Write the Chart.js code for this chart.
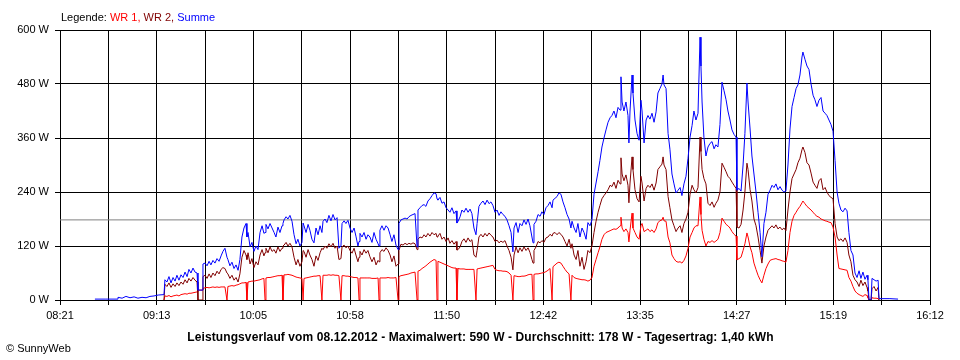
<!DOCTYPE html>
<html><head><meta charset="utf-8">
<script src="https://cdn.jsdelivr.net/npm/chart.js@4/dist/chart.umd.min.js"></script>
<style>
html,body{margin:0;padding:0;background:#fff;}
#wrap{position:relative;width:960px;height:360px;font-family:"Liberation Sans",Arial,sans-serif;color:#000;}
canvas{position:absolute;left:0;top:0;}
.txt{position:absolute;white-space:nowrap;font-size:11px;line-height:11px;}
</style></head><body>
<div id="wrap">
<canvas id="c" width="960" height="360"></canvas>
<div class="txt" style="left:61px;top:12px;">Legende: <span style="color:#ff0000">WR 1,</span> <span style="color:#800000">WR 2,</span> <span style="color:#0000ff">Summe</span></div>
<div class="txt" style="left:0;width:961px;text-align:center;top:331px;font-weight:bold;font-size:12px;line-height:12px;letter-spacing:0.1px;">Leistungsverlauf vom 08.12.2012 - Maximalwert: 590 W - Durchschnitt: 178 W - Tagesertrag: 1,40 kWh</div>
<div class="txt" style="left:6px;top:343px;">© SunnyWeb</div>
</div>
<script>
// time of day in minutes since midnight
const times = [
519.9,525.4,531.9,532.4,534.6,536.7,538.9,541.1,543.2,545.4,547.6,549.7,551.9,554.1,557.3,
557.8,558.9,560.0,561.1,562.2,563.3,564.3,565.4,566.5,567.6,568.7,569.8,570.8,571.9,573.0,574.1,575.2,575.7,577.9,
578.4,579.5,580.6,581.7,582.7,583.8,584.9,586.0,587.1,588.2,589.2,590.3,591.4,591.9,593.0,594.1,595.2,596.3,597.4,598.4,599.5,600.6,601.7,
602.2,602.8,603.9,604.9,606.0,607.1,608.2,609.3,610.4,611.4,612.0,612.5,613.6,614.7,615.8,616.9,617.9,619.0,620.1,621.2,621.7,622.3,623.4,624.4,625.5,626.6,627.7,628.8,629.8,630.9,632.0,
632.6,633.1,634.2,635.3,636.3,637.4,638.5,639.6,640.7,641.8,642.8,643.4,644.5,645.5,646.6,647.7,648.8,649.9,651.0,652.0,653.1,653.7,654.8,655.8,656.9,658.0,659.1,660.2,661.2,662.3,
662.9,663.4,664.5,665.6,666.7,667.7,668.8,669.9,671.0,672.1,673.2,673.7,674.2,675.3,676.4,677.5,678.6,679.7,680.7,681.8,682.9,684.0,
684.5,685.6,686.7,687.8,688.9,689.9,691.0,692.1,693.2,694.3,694.8,695.9,697.0,698.1,699.1,700.2,701.3,702.4,703.5,704.6,705.1,
705.6,706.7,707.8,708.9,710.0,711.1,712.1,713.2,714.3,715.4,715.9,716.5,717.6,718.6,719.7,720.8,721.9,723.0,724.0,725.1,726.2,
726.8,727.8,728.9,730.0,731.1,732.2,733.3,734.3,735.4,736.5,737.6,738.7,739.7,740.8,741.9,743.0,744.1,745.2,746.2,
746.8,747.9,749.0,750.0,751.1,752.2,753.3,754.4,755.4,756.5,757.1,757.6,758.7,759.8,760.9,761.9,763.0,764.1,765.2,766.3,767.4,
767.9,769.0,770.1,771.1,772.2,773.3,774.4,775.5,776.6,777.6,778.2,779.3,780.4,781.4,782.5,783.6,784.7,785.8,786.8,787.9,789.0,
790.1,791.2,792.3,793.3,794.4,795.5,796.6,797.7,798.8,799.8,800.9,802.0,803.1,804.2,804.7,805.3,806.3,807.4,808.5,809.0,809.6,810.7,
811.2,812.3,813.4,814.5,815.5,816.1,817.2,818.3,819.3,820.4,821.5,822.6,823.7,824.7,825.8,826.9,827.5,828.0,829.1,830.2,
831.2,832.3,833.4,834.5,835.6,836.7,837.7,838.8,839.9,841.0,842.1,843.2,844.2,845.3,846.4,847.5,848.0,848.6,849.6,
850.7,851.8,852.9,854.0,855.1,856.1,857.2,858.3,859.4,860.5,861.6,862.6,863.7,864.8,865.9,867.0,
867.5,868.6,869.7,870.8,871.8,872.9,873.5,874.6,875.6,876.7,877.8,878.9,880.0,881.0,882.1,883.2,884.3,
885.4,886.5,887.5,888.6,889.7,890.8,891.9,892.9,894.0,895.1,896.2,897.3,898.4,899.5,900.5,901.6,902.7,903.2,
904.3,905.4,906.5,907.6,908.7,909.7,910.8,911.9,913.0,914.1,915.2,916.2,917.3,918.4,919.5,920.6,921.7,
922.7,923.8,924.9,926.0,927.1,928.1,929.2,930.3,931.4,932.5,933.6,934.6,935.7,936.8,937.9,938.4,
939.0,940.1,940.6,941.7,942.8,943.9,944.4,946.0,950.3,954.7
];
// WR 1 power (W)
const wr1 = [
null,null,null,null,null,null,null,null,null,null,null,null,null,null,0,
9,8,10,7,9,10,11,9,12,13,14,13,15,15,16,17,18,22,22,
26,27,28,27,28,29,28,29,28,29,29,29,0,30,31,32,31,33,34,36,38,38,39,
0,40,41,42,42,43,44,45,47,48,0,49,50,50,51,52,53,54,54,55,0,56,56,57,56,55,53,51,50,49,48,
0,48,49,50,51,52,53,53,54,54,0,55,55,55,56,55,56,55,55,54,0,54,54,53,53,52,51,50,50,49,
0,49,49,49,49,49,49,48,48,48,49,0,49,49,49,49,50,49,49,49,50,0,
52,54,55,56,57,58,60,61,62,0,64,66,70,73,76,80,84,87,90,88,0,
86,84,82,80,78,76,74,72,71,71,0,70,69,69,69,68,68,68,68,68,0,
69,70,71,72,73,74,75,76,77,68,66,65,65,64,64,63,60,55,0,
54,53,52,52,53,53,54,56,57,57,0,57,58,58,59,60,61,63,66,70,0,
74,78,82,84,82,75,68,62,58,0,55,50,48,47,46,45,45,44,42,44,50,
75,90,105,118,135,145,150,152,154,156,158,157,160,165,184,160,152,158,150,129,155,193,
160,150,140,135,165,170,152,155,158,152,156,150,158,172,176,178,184,176,175,140,
127,100,92,86,84,85,82,88,98,115,140,150,160,165,165,229,190,155,135,
120,130,128,132,128,131,135,150,182,175,168,165,160,152,146,142,
89,92,95,110,125,149,140,118,105,82,68,55,45,38,55,70,80,
88,90,91,92,90,89,87,86,84,110,150,175,188,195,202,208,216,220,
214,208,204,200,195,190,186,184,180,178,176,175,173,172,162,140,100,
70,69,68,67,66,50,42,30,20,15,12,10,8,12,10,5,
0,0,5,4,4,3,0,null,null,null
];
// WR 2 power (W)
const wr2 = [
null,null,null,null,null,null,null,null,null,null,null,null,null,null,0,
35,30,38,28,36,30,38,32,40,35,45,38,48,42,50,44,40,0,0,
52,55,48,58,50,60,54,64,58,68,72,70,60,58,48,55,44,50,40,58,95,110,100,
90,105,80,92,72,85,78,100,112,98,105,115,105,118,108,112,104,118,108,115,120,122,128,120,126,118,95,78,90,75,85,
110,108,95,112,100,90,75,98,88,105,115,112,120,115,125,118,126,115,120,90,92,118,122,116,120,110,104,115,100,85,
95,108,100,112,104,110,96,85,95,78,88,85,105,112,108,116,110,100,85,98,75,80,
110,124,122,126,123,126,124,127,125,112,135,140,138,145,140,148,142,150,145,148,140,
142,148,135,140,130,138,126,132,124,130,111,112,118,130,136,128,138,130,134,100,95,
110,140,146,140,148,142,149,144,140,130,133,127,131,128,132,120,110,95,67,
100,118,105,116,108,118,110,116,106,90,82,110,118,130,127,132,128,138,140,146,142,
148,150,145,150,146,140,130,120,135,115,125,100,90,110,75,95,68,85,110,105,120,
150,175,195,210,225,232,238,245,255,252,262,248,266,258,316,280,265,278,255,216,260,318,
290,245,225,218,275,260,220,248,255,250,258,244,260,290,296,302,318,300,290,230,
205,178,165,152,160,165,150,170,180,195,235,255,245,238,250,362,330,290,270,
258,215,210,218,206,215,222,240,304,295,285,275,270,262,255,248,
162,160,168,200,240,304,290,245,220,180,165,140,110,82,120,140,155,
160,165,160,167,158,162,156,160,154,200,240,270,280,290,305,315,334,340,
328,305,300,282,262,255,248,265,270,245,250,240,232,228,225,170,140,
132,136,130,138,128,100,85,55,45,40,30,44,32,40,28,20,
0,0,25,30,20,28,0,null,null,null
];
// Summe power (W)
const summe = [
2,2,2,6,4,8,5,7,4,6,5,8,9,11,12,
45,40,52,38,50,42,55,44,56,50,62,52,68,60,71,62,60,22,22,
80,82,76,86,78,88,82,92,86,98,108,115,95,90,76,84,70,78,66,90,140,160,170,
140,150,118,128,108,120,112,150,165,148,150,168,158,170,160,150,140,162,150,165,170,178,185,180,188,175,145,125,135,120,128,
171,165,150,168,155,135,127,160,145,165,150,175,180,172,188,176,190,178,183,115,120,170,176,170,177,160,150,160,142,120,
130,148,140,150,135,145,140,128,150,135,125,120,155,165,155,165,160,145,130,145,122,112,
170,178,180,182,180,185,188,190,192,118,200,205,210,212,208,220,225,232,238,236,225,
222,228,215,218,205,200,195,205,192,198,171,175,185,200,195,204,195,202,192,160,145,
170,208,215,220,212,222,214,218,210,195,200,188,196,190,186,178,165,150,107,
160,172,150,170,165,178,168,180,165,140,127,168,175,190,186,196,190,205,210,218,205,
222,226,230,238,235,218,205,190,180,160,175,160,150,170,140,160,150,135,172,165,178,
235,260,285,310,340,360,378,395,405,410,420,405,428,422,496,440,420,440,410,349,420,500,
460,400,370,355,444,420,349,400,410,402,415,395,418,460,470,480,500,478,470,370,
335,280,258,238,244,250,232,258,275,315,362,388,420,400,415,584,520,440,362,
320,340,348,352,336,345,340,390,484,465,445,420,400,378,368,362,
244,248,242,300,370,482,440,380,320,280,240,195,150,96,170,195,235,
244,255,250,258,245,252,244,240,242,300,380,430,450,470,478,500,540,551,
535,520,512,480,455,445,430,444,450,420,415,410,400,390,375,310,240,
215,200,196,204,198,150,110,100,60,50,65,48,62,46,55,45,
0,0,48,45,42,44,3,3,3,2
];
const average = 178;
const axisStart = '08:21';
const axisEnd = '16:12';
const xTickLabels = ['08:21','09:13','10:05','10:58','11:50','12:42','13:35','14:27','15:19','16:12'];
const yTicks = [0,120,240,360,480,600];

const toMin = s => { const p = s.split(':').map(Number); return p[0]*60 + p[1]; };
const xMin = toMin(axisStart), xMax = toMin(axisEnd);
const pts = arr => times.map((t,i) => ({x:t, y:arr[i]}));
if (wr1.length !== times.length || wr2.length !== times.length || summe.length !== times.length) {
  console.error('length mismatch', times.length, wr1.length, wr2.length, summe.length);
}
const FONT = {family:'"Liberation Sans", Arial, sans-serif', size:11};
const gridOpts = {color:'#000', lineWidth:1, tickLength:5, drawTicks:true};
new Chart(document.getElementById('c'), {
  type:'line',
  data:{datasets:[
    {label:'Summe', data:pts(summe), borderColor:'#0000ff', order:1},
    {label:'WR 2', data:pts(wr2), borderColor:'#800000', order:2},
    {label:'WR 1', data:pts(wr1), borderColor:'#ff0000', order:3},
    {label:'Durchschnitt', data:[{x:xMin,y:average},{x:xMax,y:average}], borderColor:'#808080', order:10}
  ]},
  options:{
    responsive:false, animation:false, devicePixelRatio:1,
    layout:{padding:{top:30,right:30,bottom:0,left:0}},
    elements:{point:{radius:0,hoverRadius:0}, line:{borderWidth:1, tension:0, fill:false}},
    spanGaps:false,
    plugins:{legend:{display:false}, tooltip:{enabled:false}, title:{display:false}},
    events:[],
    scales:{
      x:{type:'linear', min:xMin, max:xMax,
        afterBuildTicks:s => { const n=(xTickLabels.length-1)*2; s.ticks = Array.from({length:n+1},(_,i)=>({value:xMin+(xMax-xMin)*i/n})); },
        afterFit:s => { s.height = 60; },
        ticks:{autoSkip:false, maxRotation:0, minRotation:0, padding:4, color:'#000', font:FONT,
          callback:(v,i) => i%2===0 ? xTickLabels[i/2] : ''},
        grid:gridOpts, border:{color:'#000', width:1}},
      y:{min:0, max:600,
        afterBuildTicks:s => { s.ticks = yTicks.map(v=>({value:v})); },
        afterFit:s => { s.width = 60; },
        ticks:{padding:6, color:'#000', font:FONT, callback:v => v + ' W'},
        grid:gridOpts, border:{color:'#000', width:1}}
    }
  }
});
</script>
</body></html>
